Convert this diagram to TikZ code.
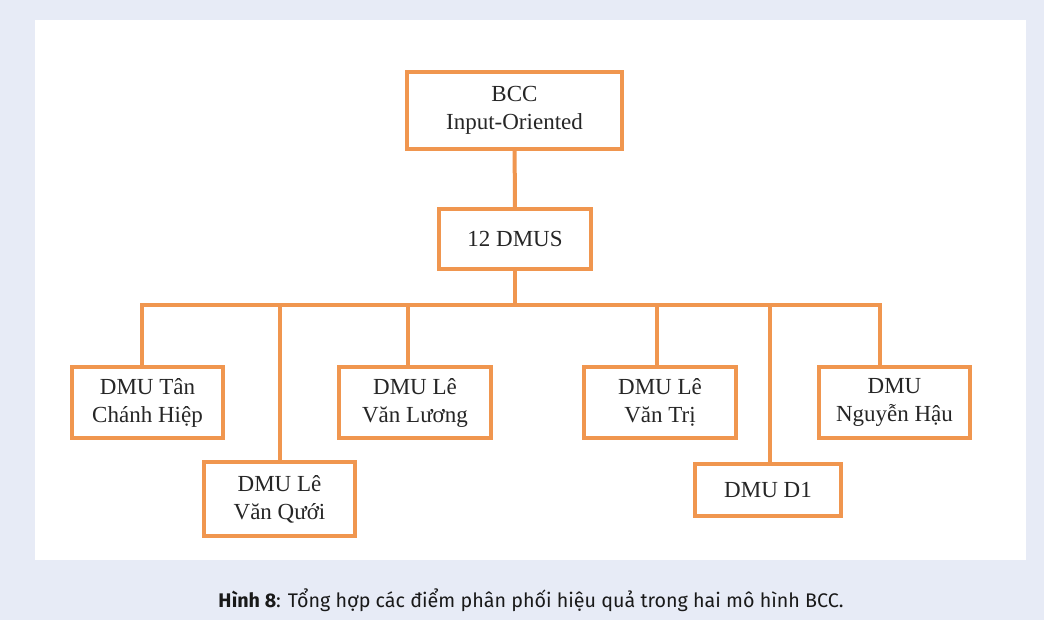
\documentclass[tikz,border=0pt]{standalone}
\usepackage{fontspec}
\setmainfont{Liberation Serif}
\newfontfamily\captionfont{Fira Sans}
\definecolor{pagebg}{HTML}{E7EBF6}
\definecolor{boxline}{HTML}{F0964F}
\tikzset{unit/.style={draw=boxline, line width=4pt, fill=white, align=center, text=black!85, font=\fontsize{23}{28}\selectfont}}
\tikzset{link/.style={draw=boxline, line width=4pt}}

\begin{document}
\begin{tikzpicture}[x=1pt, y=-1pt]
            \fill[pagebg] (0, 0) rectangle (1044, 620);
            \fill[white] (35, 20) rectangle (1026, 560);
            \useasboundingbox (0, 0) rectangle (1044, 620);
            \node[unit, minimum width=215pt, minimum height=77pt] (bcc) at (514.5, 110.5) {BCC\\Input-Oriented};
            \node[unit, minimum width=152pt, minimum height=60pt] (dmus) at (515, 239) {12 DMUS};
            \node[unit, minimum width=151pt, minimum height=71pt] (tan) at (147.5, 402.5) {DMU Tân\\Chánh Hiệp};
            \node[unit, minimum width=151pt, minimum height=74pt] (quoi) at (279.5, 499) {DMU Lê\\Văn Qưới};
            \node[unit, minimum width=152pt, minimum height=71pt] (luong) at (415, 402.5) {DMU Lê\\Văn Lương};
            \node[unit, minimum width=152pt, minimum height=71pt] (tri) at (660, 402.5) {DMU Lê\\Văn Trị};
            \node[unit, minimum width=146pt, minimum height=52pt] (d1) at (768, 490) {DMU D1};
            \node[unit, minimum width=151pt, minimum height=71pt] (hau) at (894.5, 402.5) {DMU\\Nguyễn Hậu};
            \coordinate (bus) at (515, 305);
            \draw[link] (bcc) -- (dmus);
            \draw[link] (dmus) -- (bus);
            \draw[link] (bus) -| ([xshift=-5.5pt]tan.north);
            \draw[link] (bus) -| (quoi.north);
            \draw[link] (bus) -| ([xshift=-7pt]luong.north);
            \draw[link] (bus) -| ([xshift=-3pt]tri.north);
            \draw[link] (bus) -| ([xshift=2pt]d1.north);
            \draw[link] (bus) -| ([xshift=-14.5pt]hau.north);
            \node[font=\captionfont\fontsize{19.7}{24}\selectfont, text=black!90] (caption) at (531, 600) {\textbf{Hình 8}: Tổng hợp các điểm phân phối hiệu quả trong hai mô hình BCC.};
        \end{tikzpicture}
\end{document}
